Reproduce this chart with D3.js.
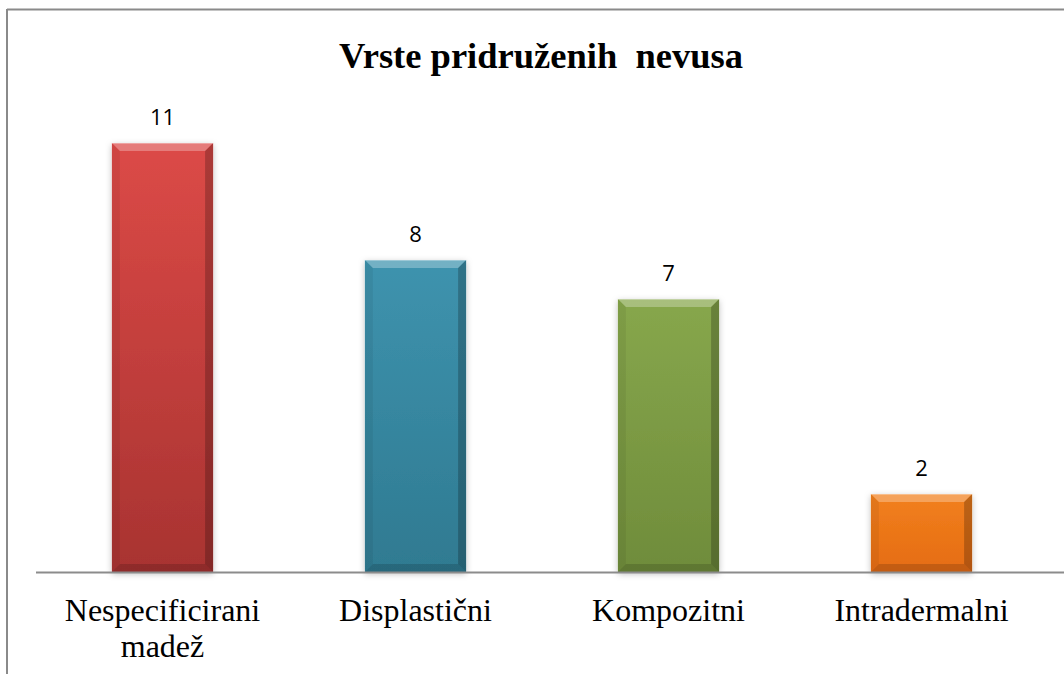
<!DOCTYPE html>
<html><head><meta charset="utf-8">
<script src="https://cdn.jsdelivr.net/npm/d3@7"></script>
<style>body{margin:0;background:#fff;}svg{display:block;}</style>
</head><body>
<svg id="c" width="1064" height="674"></svg>
<script>
const categories = [["Nespecificirani","madež"],["Displastični"],["Kompozitni"],["Intradermalni"]];
const values = [11, 8, 7, 2];
const topColors = ["#DC4A47", "#3E93AE", "#87A74C", "#F2801E"];
const bottomColors = ["#A83331", "#2F7A91", "#6F8C3B", "#E56C12"];
const title = "Vrste pridruženih  nevusa";

const W = 1064, H = 674;
const svg = d3.select("#c");
const defs = svg.append("defs");
const f = defs.append("filter").attr("id","sh").attr("x","-20%").attr("y","-20%").attr("width","140%").attr("height","140%");
f.append("feDropShadow").attr("dx",0).attr("dy",2).attr("stdDeviation",3).attr("flood-color","#000").attr("flood-opacity",0.25);

values.forEach((v,i)=>{
  const g = defs.append("linearGradient").attr("id","g"+i).attr("x1",0).attr("y1",0).attr("x2",0).attr("y2",1);
  g.append("stop").attr("offset","0%").attr("stop-color",topColors[i]);
  g.append("stop").attr("offset","100%").attr("stop-color",bottomColors[i]);
});

// frame
svg.append("line").attr("x1",7).attr("x2",W).attr("y1",9.5).attr("y2",9.5).attr("stroke","#8a8a8a").attr("stroke-width",2);
svg.append("line").attr("x1",7).attr("x2",7).attr("y1",9).attr("y2",H).attr("stroke","#8a8a8a").attr("stroke-width",2);

const x = d3.scaleBand().domain(d3.range(values.length)).range([36, 1048]).paddingInner(0.6).paddingOuter(0.3);
const y = d3.scaleLinear().domain([0, 12]).range([572, 104]);

svg.append("text").attr("x",541).attr("y",68).attr("text-anchor","middle").style("white-space","pre")
  .attr("font-family","'Liberation Serif','Times New Roman',serif").attr("font-weight","bold").attr("font-size",36.5)
  .attr("fill","#000").text(title);

const bars = svg.append("g").selectAll("g").data(values).join("g");
bars.append("rect").attr("x",(d,i)=>x(i)).attr("y",d=>y(d)).attr("width",x.bandwidth()).attr("height",d=>y(0)-y(d))
  .attr("fill",(d,i)=>`url(#g${i})`).attr("filter","url(#sh)");
const b = 8;
bars.each(function(d,i){
  const g = d3.select(this);
  const x0 = x(i), x1 = x(i)+x.bandwidth(), y0 = y(d), y1 = y(0);
  g.append("polygon").attr("points",`${x0},${y0} ${x1},${y0} ${x1-b},${y0+b} ${x0+b},${y0+b}`).attr("fill","#fff").attr("opacity",0.28);
  g.append("polygon").attr("points",`${x0},${y0} ${x0+b},${y0+b} ${x0+b},${y1-b} ${x0},${y1}`).attr("fill","#000").attr("opacity",0.06);
  g.append("polygon").attr("points",`${x1},${y0} ${x1-b},${y0+b} ${x1-b},${y1-b} ${x1},${y1}`).attr("fill","#000").attr("opacity",0.22);
  g.append("polygon").attr("points",`${x0},${y1} ${x0+b},${y1-b} ${x1-b},${y1-b} ${x1},${y1}`).attr("fill","#000").attr("opacity",0.15);
  g.append("line").attr("x1",x0).attr("x2",x1).attr("y1",y0+0.5).attr("y2",y0+0.5).attr("stroke","#fff").attr("stroke-opacity",0.3);
});
bars.append("text").attr("x",(d,i)=>x(i)+x.bandwidth()/2).attr("y",d=>y(d)-18).attr("text-anchor","middle")
  .attr("font-family","'Open Sans','Liberation Sans',sans-serif").attr("font-size",22).attr("fill","#000").text(d=>d);

// axis
const xAxis = d3.axisBottom(x).tickSize(0).tickFormat("");
const ax = svg.append("g").attr("transform","translate(0,572)").call(xAxis);
ax.select(".domain").remove();
svg.append("line").attr("x1",36).attr("x2",W).attr("y1",572.5).attr("y2",572.5).attr("stroke","#8c8c8c").attr("stroke-width",2);

const labels = svg.append("g").selectAll("text").data(categories).join("text")
  .attr("x",(d,i)=>x(i)+x.bandwidth()/2).attr("y",621).attr("text-anchor","middle")
  .attr("font-family","'Liberation Serif','Times New Roman',serif").attr("font-size",32).attr("fill","#000");
labels.each(function(d){
  d3.select(this).selectAll("tspan").data(d).join("tspan")
    .attr("x",d3.select(this).attr("x")).attr("dy",(t,j)=>j?36:0).text(t=>t);
});
</script>
</body></html>
